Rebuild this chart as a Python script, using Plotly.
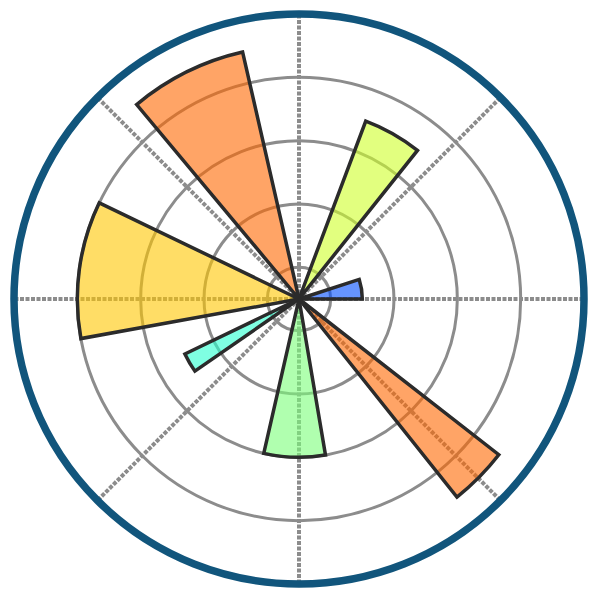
import plotly.graph_objects as go

theta_deg = [0.0, 51.43, 102.86, 154.29, 205.71, 257.14, 308.57]
radii = [2, 6, 8, 7, 4, 5, 8]
widths_deg = [18.0, 18.0, 27.0, 36.0, 9.0, 22.5, 13.5]
colors = [
    "rgba(0,77,255,0.6)",
    "rgba(206,255,41,0.6)",
    "rgba(255,104,0,0.6)",
    "rgba(255,198,0,0.6)",
    "rgba(41,255,206,0.6)",
    "rgba(124,255,121,0.6)",
    "rgba(255,104,0,0.6)",
]
rgrid = [1, 3, 5, 7]
angle_ticks = [0, 45, 90, 135, 180, 225, 270, 315]

fig = go.Figure()
fig.add_trace(go.Barpolar(
    r=radii, theta=theta_deg, width=widths_deg, offset=0,
    marker=dict(color=colors, line=dict(color="#2b2b2b", width=3.5)),
    base=0,
))
fig.update_layout(
    width=600, height=600,
    margin=dict(l=6, r=24, t=6, b=24),
    paper_bgcolor="white",
    showlegend=False,
    polar=dict(
        bgcolor="white",
        domain=dict(x=[0, 1], y=[0, 1]),
        radialaxis=dict(range=[0, 9], tickvals=rgrid, showticklabels=False,
                        ticks="", showline=False, gridcolor="#8c8c8c", gridwidth=3),
        angularaxis=dict(tickvals=angle_ticks, showticklabels=False, ticks="",
                         showline=True, linecolor="#11557c", linewidth=7.5,
                         gridcolor="#8c8c8c", gridwidth=3.5, griddash="4px,1.5px",
                         rotation=0, direction="counterclockwise"),
    ),
)
fig.write_html("out.html")
